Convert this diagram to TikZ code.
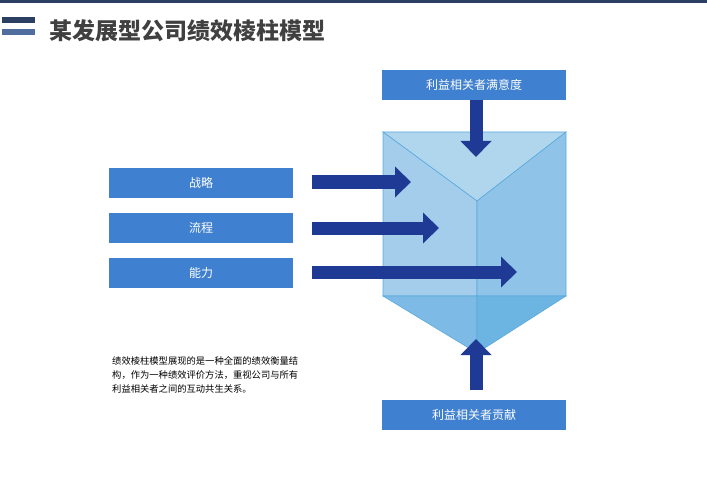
\documentclass[tikz,border=0pt]{standalone}
\usepackage{fontspec}
\newfontfamily\cjk{Noto Sans CJK SC}
\usetikzlibrary{arrows.meta, positioning}
\definecolor{navy}{HTML}{2B3F63}
\definecolor{barblue}{HTML}{4F6E9E}
\definecolor{boxblue}{HTML}{3F80D0}
\definecolor{arrowblue}{HTML}{1E3A95}
\definecolor{edgeblue}{HTML}{5AAADD}

\begin{document}
\begin{tikzpicture}[x=1pt,y=-1pt,
  box/.style={fill=boxblue,text=white,minimum width=184pt,minimum height=30pt,
    inner sep=0pt,font=\cjk\fontsize{12}{14}\selectfont},
  big arrow/.style={draw=arrowblue,line width=13pt,
    -{Triangle[length=16pt,width=30pt]}},
  face/.style={draw=edgeblue,line width=0.6pt}]
  \useasboundingbox (0,0) rectangle (707,500);
  % header
  \fill[navy] (0,0) rectangle (707,3);
  \fill[navy] (2,17) rectangle (35,23);
  \fill[barblue] (2,29) rectangle (35,35);
  \node[anchor=west,text=black!75,font=\cjk\bfseries\fontsize{23}{26}\selectfont] (title) at (46,31) {某发展型公司绩效棱柱模型};
  % prism
  \fill[face,fill={rgb,255:red,176;green,214;blue,238}] (383,132) -- (566,132) -- (477,201) -- cycle;
  \fill[face,fill={rgb,255:red,163;green,205;blue,235}] (383,132) -- (477,201) -- (477,296) -- (383,296) -- cycle;
  \fill[face,fill={rgb,255:red,143;green,196;blue,232}] (566,132) -- (477,201) -- (477,296) -- (566,296) -- cycle;
  \fill[face,fill={rgb,255:red,125;green,186;blue,229}] (383,296) -- (477,296) -- (477,353) -- cycle;
  \fill[face,fill={rgb,255:red,108;green,180;blue,226}] (477,296) -- (566,296) -- (477,353) -- cycle;
  % boxes
  \node[box] (strategy) at (201,183) {战略};
  \node[box] (process) at (201,228) {流程};
  \node[box] (ability) at (201,273) {能力};
  \node[box] (satisfy) at (474,85) {利益相关者满意度};
  \node[box] (contrib) at (474,415) {利益相关者贡献};
  % arrows
  \coordinate (s1) at (312,182);
  \coordinate (e1) at (411,182);
  \coordinate (s2) at (312,228);
  \coordinate (e2) at (439,228);
  \coordinate (s3) at (312,272);
  \coordinate (e3) at (517,272);
  \coordinate (d0) at (476,100);
  \coordinate (d1) at (476,157);
  \coordinate (u0) at (476,390);
  \coordinate (u1) at (476,339);
  \draw[big arrow] (s1) -- (e1);
  \draw[big arrow] (s2) -- (e2);
  \draw[big arrow] (s3) -- (e3);
  \draw[big arrow] (d0) -- (d1);
  \draw[big arrow] (u0) -- (u1);
  % note
  \node[anchor=north west,align=left,inner sep=0pt,
    font=\cjk\fontsize{9.3}{14}\selectfont] (note) at (112,356)
    {绩效棱柱模型展现的是一种全面的绩效衡量结\\构，作为一种绩效评价方法，重视公司与所有\\利益相关者之间的互动共生关系。};
\end{tikzpicture}
\end{document}
